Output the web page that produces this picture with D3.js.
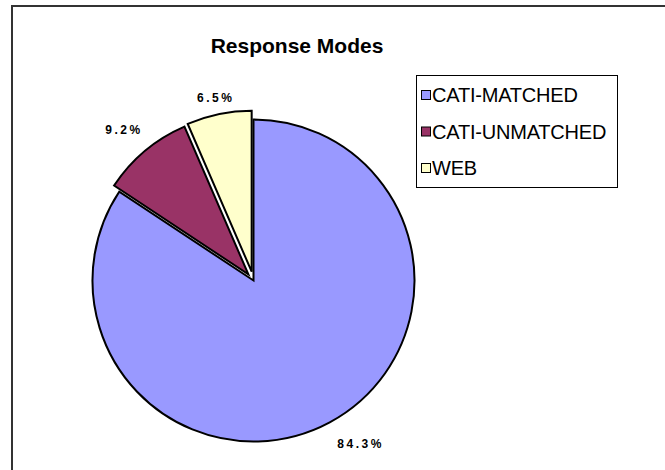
<!DOCTYPE html>
<html>
<head>
<meta charset="utf-8">
<script src="https://cdn.jsdelivr.net/npm/d3@7"></script>
<style>
  html, body { margin: 0; padding: 0; background: #fff; }
  svg { display: block; }
</style>
</head>
<body>
<svg id="chart" width="665" height="470"></svg>
<script>
// ---- data ----
const categories = ["CATI-MATCHED", "CATI-UNMATCHED", "WEB"];
const values = [84.3, 9.2, 6.5];
const valueLabels = ["84.3%", "9.2%", "6.5%"];
const colors = ["#9999FF", "#993366", "#FFFFCC"];
const explodeOffsets = [0, 8, 9];
const title = "Response Modes";

// ---- layout ----
const W = 665, H = 470;
const cx = 253.5, cy = 280.5, r = 161;
const font = "Arial, 'Liberation Sans', sans-serif";

const svg = d3.select("#chart");

// outer frame (extends beyond the window on right and bottom)
svg.append("rect")
  .attr("x", 12).attr("y", 6)
  .attr("width", W + 20).attr("height", H + 20)
  .attr("fill", "#fff")
  .attr("stroke", "#333").attr("stroke-width", 2);

// title
svg.append("text")
  .attr("x", 297).attr("y", 53)
  .attr("text-anchor", "middle")
  .attr("font-family", font)
  .attr("font-weight", "bold")
  .attr("font-size", 21)
  .text(title);

// pie
const pie = d3.pie().sort(null).value(d => d.value);
const arcs = pie(categories.map((c, i) => ({ cat: c, value: values[i], i })));
const arc = d3.arc().innerRadius(0).outerRadius(r);

const g = svg.append("g").attr("transform", `translate(${cx},${cy})`);

arcs.forEach(a => {
  const mid = (a.startAngle + a.endAngle) / 2;
  const off = explodeOffsets[a.data.i];
  const dx = Math.sin(mid) * off, dy = -Math.cos(mid) * off;
  g.append("path")
    .attr("d", arc(a))
    .attr("transform", `translate(${dx},${dy})`)
    .attr("fill", colors[a.data.i])
    .attr("stroke", "#000")
    .attr("stroke-width", 2)
    .attr("stroke-linejoin", "miter");

  // label
  const R = r + 16;
  const sx = Math.sin(mid), cy2 = -Math.cos(mid);
  const lx = dx + sx * R, ly = dy + cy2 * R;
  const anchor = sx > 0.3 ? "start" : (sx < -0.3 ? "end" : "middle");
  g.append("text")
    .attr("x", anchor === "end" ? lx + 8 : lx)
    .attr("y", cy2 > 0 ? ly + 12 : (anchor === "end" ? ly - 5 : ly + 4))
    .attr("text-anchor", anchor)
    .attr("font-family", font)
    .attr("font-weight", "bold")
    .attr("font-size", 12)
    .attr("letter-spacing", 2.5)
    .text(valueLabels[a.data.i]);
});

// legend
const lg = svg.append("g");
lg.append("rect")
  .attr("x", 416.5).attr("y", 75.5)
  .attr("width", 201).attr("height", 112)
  .attr("fill", "#fff")
  .attr("stroke", "#000").attr("stroke-width", 1);

const rowY = d3.scalePoint().domain(categories).range([95, 168]);
categories.forEach((c, i) => {
  const y = rowY(c);
  lg.append("rect")
    .attr("x", 421.5).attr("y", y - 4.5)
    .attr("width", 9).attr("height", 9)
    .attr("fill", colors[i])
    .attr("stroke", "#000").attr("stroke-width", 1);
  lg.append("text")
    .attr("x", 432).attr("y", y + 7)
    .attr("font-family", font)
    .attr("font-size", 20)
    .attr("letter-spacing", -0.2)
    .text(c);
});
</script>
</body>
</html>
